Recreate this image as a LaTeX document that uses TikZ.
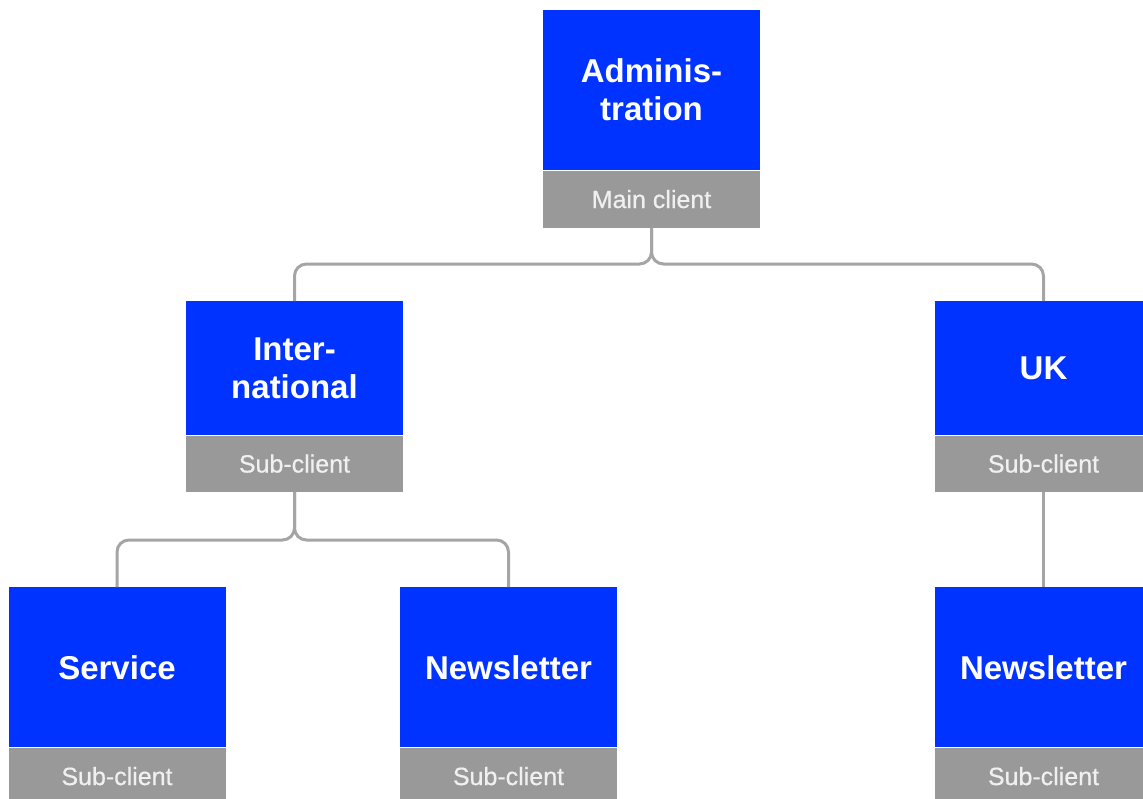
\documentclass[tikz,border=0pt]{standalone}
\usepackage{fontspec}
\setmainfont{Liberation Sans}
\newfontfamily\subfont[FakeBold=0.6]{Liberation Sans}
\definecolor{boxblue}{RGB}{0,51,255}
\definecolor{boxgray}{RGB}{153,153,153}
\definecolor{linegray}{RGB}{165,165,165}
\definecolor{subtext}{RGB}{240,240,240}
\begin{document}
\begin{tikzpicture}[x=1pt,y=-1pt,
  titlebox/.style={rectangle, fill=boxblue, text=white, inner sep=0pt, minimum width=217pt,
    font=\fontsize{33}{38}\selectfont\bfseries, align=center, anchor=north},
  subbox/.style={rectangle, fill=boxgray, text=subtext, inner sep=0pt, minimum width=217pt,
    minimum height=57pt, font=\subfont\fontsize{25}{28}\selectfont, anchor=north},
  conn/.style={draw=linegray, line width=3pt, rounded corners=12pt}]
\useasboundingbox (0,0) rectangle (1143,798);
\clip (0,0) rectangle (1143,798);
\coordinate (j1) at (651.5,264);
\coordinate (j2) at (294.5,540);
% Administration
\node[titlebox, minimum height=160pt] (adm) at (651.5,10) {Adminis-\\tration};
\node[subbox] (admsub) at (adm.south) {Main client};
% International
\node[titlebox, minimum height=134pt] (intl) at (294.5,301) {Inter-\\national};
\node[subbox, minimum height=56pt] (intlsub) at (intl.south) {Sub-client};
% UK
\node[titlebox, minimum height=134pt] (uk) at (1043.5,301) {UK};
\node[subbox, minimum height=56pt] (uksub) at (uk.south) {Sub-client};
% bottom row
\node[titlebox, minimum height=160pt] (serv) at (117,587) {Service};
\node[subbox] (servsub) at (serv.south) {Sub-client};
\node[titlebox, minimum height=160pt] (news) at (508.5,587) {Newsletter};
\node[subbox] (newssub) at (news.south) {Sub-client};
\node[titlebox, minimum height=160pt] (uknews) at (1043.5,587) {Newsletter};
\node[subbox] (uknewssub) at (uknews.south) {Sub-client};
% connectors
\draw[conn] (admsub.south) -- (j1) -| (intl.north);
\draw[conn] (admsub.south) -- (j1) -| (uk.north);
\draw[conn] (intlsub.south) -- (j2) -| (serv.north);
\draw[conn] (intlsub.south) -- (j2) -| (news.north);
\draw[conn] (uksub.south) -- (uknews.north);
\end{tikzpicture}
\end{document}
